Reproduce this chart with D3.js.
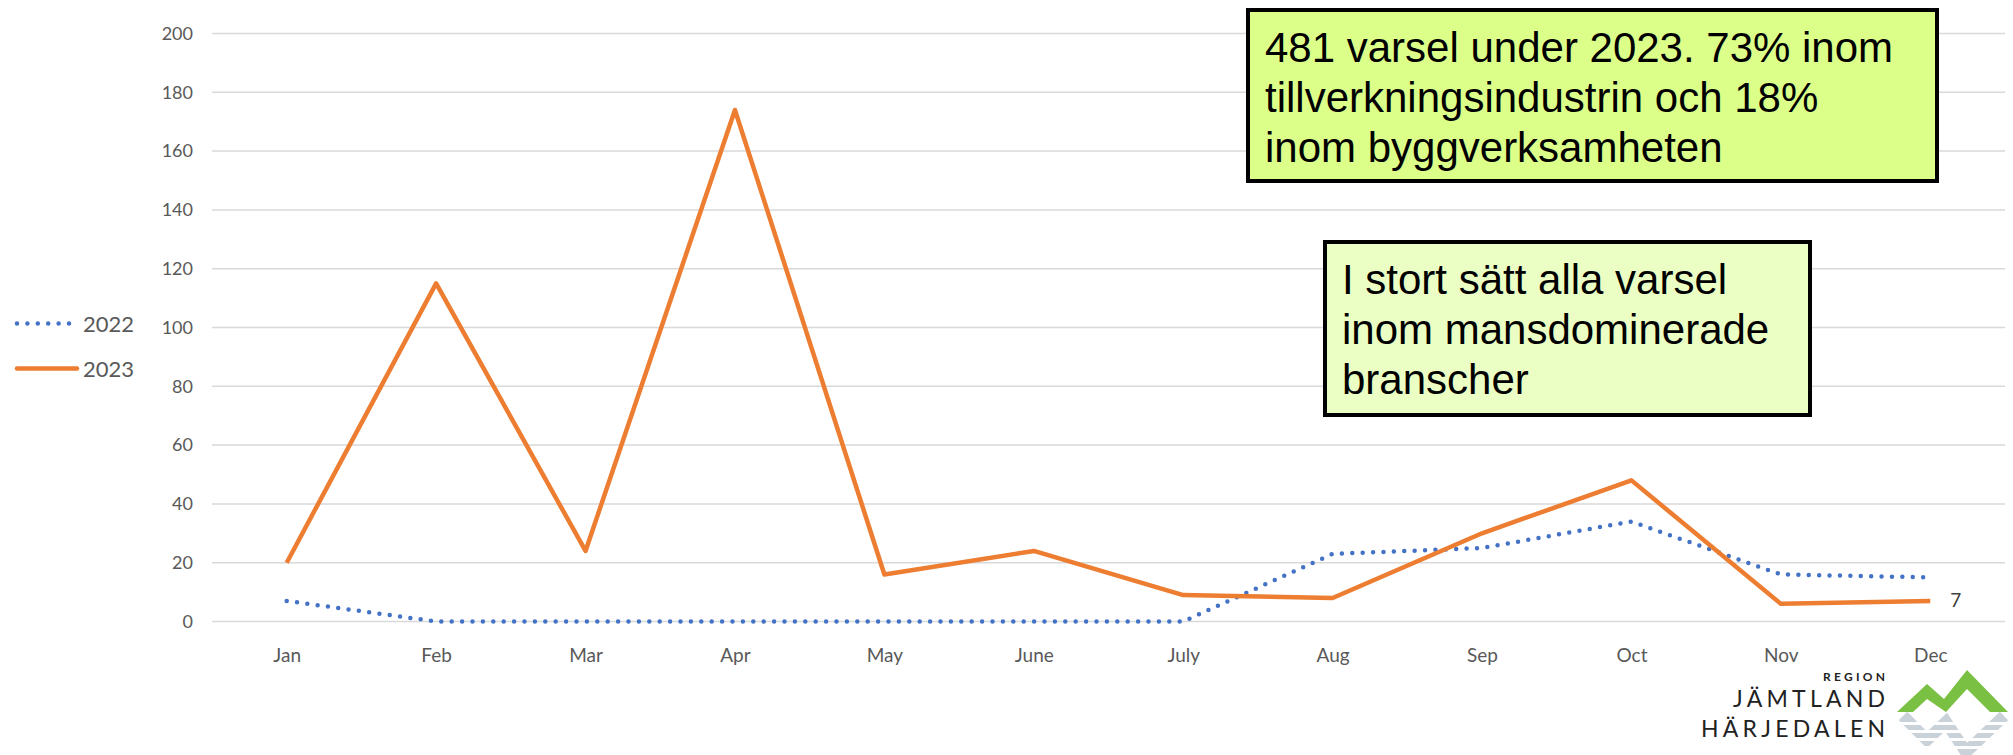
<!DOCTYPE html>
<html>
<head>
<meta charset="utf-8">
<script src="https://cdn.jsdelivr.net/npm/d3@7"></script>
<style>
  body { margin: 0; background: #fff; }
  svg { display: block; }
</style>
</head>
<body>
<svg width="2013" height="755"></svg>
<script>
// data
var months = ['Jan', 'Feb', 'Mar', 'Apr', 'May', 'June', 'July', 'Aug', 'Sep', 'Oct', 'Nov', 'Dec'];
var varsel2022 = [7, 0, 0, 0, 0, 0, 0, 23, 25, 34, 16, 15];
var varsel2023 = [20, 115, 24, 174, 16, 24, 9, 8, 30, 48, 6, 7];
var yTicks = [0, 20, 40, 60, 80, 100, 120, 140, 160, 180, 200];
var seriesNames = ['2022', '2023'];

var box1Lines = ['481 varsel under 2023. 73% inom', 'tillverkningsindustrin och 18%', 'inom byggverksamheten'];
var box2Lines = ['I stort sätt alla varsel', 'inom mansdominerade', 'branscher'];

var svg = d3.select('svg');

var x = d3.scalePoint().domain(months).range([212, 2005]).padding(0.5);
var y = d3.scaleLinear().domain([0, 200]).range([621.5, 33.5]);

// gridlines
svg.append('g')
  .selectAll('line')
  .data(yTicks)
  .join('line')
  .attr('x1', 212)
  .attr('x2', 2005)
  .attr('y1', d => y(d))
  .attr('y2', d => y(d))
  .attr('stroke', '#d9d9d9')
  .attr('stroke-width', 1.5);

// y axis labels
var yAxis = svg.append('g')
  .attr('transform', 'translate(193,0)')
  .call(d3.axisLeft(y).tickValues(yTicks).tickSize(0).tickPadding(0));
yAxis.select('.domain').remove();
yAxis.selectAll('text')
  .attr('fill', '#595959')
  .style('font-family', 'Lato, sans-serif')
  .style('font-size', '18px');

// x axis labels
var xAxis = svg.append('g')
  .attr('transform', 'translate(0,648)')
  .call(d3.axisBottom(x).tickSize(0).tickPadding(0));
xAxis.select('.domain').remove();
xAxis.selectAll('text')
  .attr('fill', '#595959')
  .style('font-family', 'Lato, sans-serif')
  .style('font-size', '19px');

var line = d3.line()
  .x((d, i) => x(months[i]))
  .y(d => y(d));

svg.append('path')
  .datum(varsel2022)
  .attr('d', line)
  .attr('fill', 'none')
  .attr('stroke', '#4472c4')
  .attr('stroke-width', 4.5)
  .attr('stroke-linecap', 'round')
  .attr('stroke-dasharray', '0 10.4');

svg.append('path')
  .datum(varsel2023)
  .attr('d', line)
  .attr('fill', 'none')
  .attr('stroke', '#ed7d31')
  .attr('stroke-width', 4.5)
  .attr('stroke-linejoin', 'round');

// last value label
svg.append('text')
  .attr('x', x('Dec') + 20)
  .attr('y', y(varsel2023[11]) + 6)
  .attr('fill', '#404040')
  .style('font-family', 'Lato, sans-serif')
  .style('font-size', '19px')
  .text(varsel2023[11]);

// legend
var legend = svg.append('g')
  .selectAll('g')
  .data(seriesNames)
  .join('g')
  .attr('transform', (d, i) => 'translate(0,' + (323.5 + i * 45) + ')');

legend.append('line')
  .attr('x1', 17)
  .attr('x2', (d, i) => i == 0 ? 71 : 77)
  .attr('stroke', (d, i) => i == 0 ? '#4472c4' : '#ed7d31')
  .attr('stroke-width', 4.5)
  .attr('stroke-linecap', 'round')
  .attr('stroke-dasharray', (d, i) => i == 0 ? '0 10.4' : null);

legend.append('text')
  .attr('x', 83)
  .attr('y', 8)
  .attr('fill', '#595959')
  .style('font-family', 'Lato, sans-serif')
  .style('font-size', '22px')
  .text(d => d);

// annotation boxes
function noteBox(x0, y0, w, h, fill, lines, textY) {
  var g = svg.append('g');
  g.append('rect')
    .attr('x', x0)
    .attr('y', y0)
    .attr('width', w)
    .attr('height', h)
    .attr('fill', fill)
    .attr('stroke', '#000')
    .attr('stroke-width', 4);
  g.selectAll('text')
    .data(lines)
    .join('text')
    .attr('x', x0 + 17)
    .attr('y', (d, i) => textY + i * 50)
    .attr('fill', '#000')
    .style('font-family', '"Liberation Sans", Arial, sans-serif')
    .style('font-size', '42px')
    .text(d => d);
}

noteBox(1248, 10, 689, 171, '#dcff8a', box1Lines, 62);
noteBox(1325, 242, 485, 173, '#ebffc4', box2Lines, 294);

// logo
var logo = svg.append('g');
logo.append('text')
  .attr('x', 1823).attr('y', 681)
  .attr('textLength', 62)
  .attr('fill', '#222')
  .style('font-family', 'Lato, sans-serif')
  .style('font-weight', 700)
  .style('font-size', '12px')
  .text('REGION');
logo.append('text')
  .attr('x', 1733).attr('y', 707)
  .attr('textLength', 152)
  .attr('fill', '#222')
  .style('font-family', 'Lato, sans-serif')
  .style('font-size', '23px')
  .text('JÄMTLAND');
logo.append('text')
  .attr('x', 1701).attr('y', 737)
  .attr('textLength', 184)
  .attr('fill', '#222')
  .style('font-family', 'Lato, sans-serif')
  .style('font-size', '23px')
  .text('HÄRJEDALEN');

logo.append('path')
  .attr('d', 'M1903,716 L1927,740 L1946,722 L1966,752 L2004,716')
  .attr('fill', 'none')
  .attr('stroke', '#c9d1d9')
  .attr('stroke-width', 12);
logo.selectAll('rect.stripe')
  .data([722, 730, 738, 746])
  .join('rect')
  .attr('class', 'stripe')
  .attr('x', 1895).attr('y', d => d)
  .attr('width', 118).attr('height', 3)
  .attr('fill', '#fff');
logo.append('path')
  .attr('d', 'M1897,712 L1927,684 L1944,699 L1967,670 L2008,712 L1990,712 L1967,689 L1946,712 L1927,699 L1913,712 Z')
  .attr('fill', '#7ac143');
</script>
</body>
</html>
